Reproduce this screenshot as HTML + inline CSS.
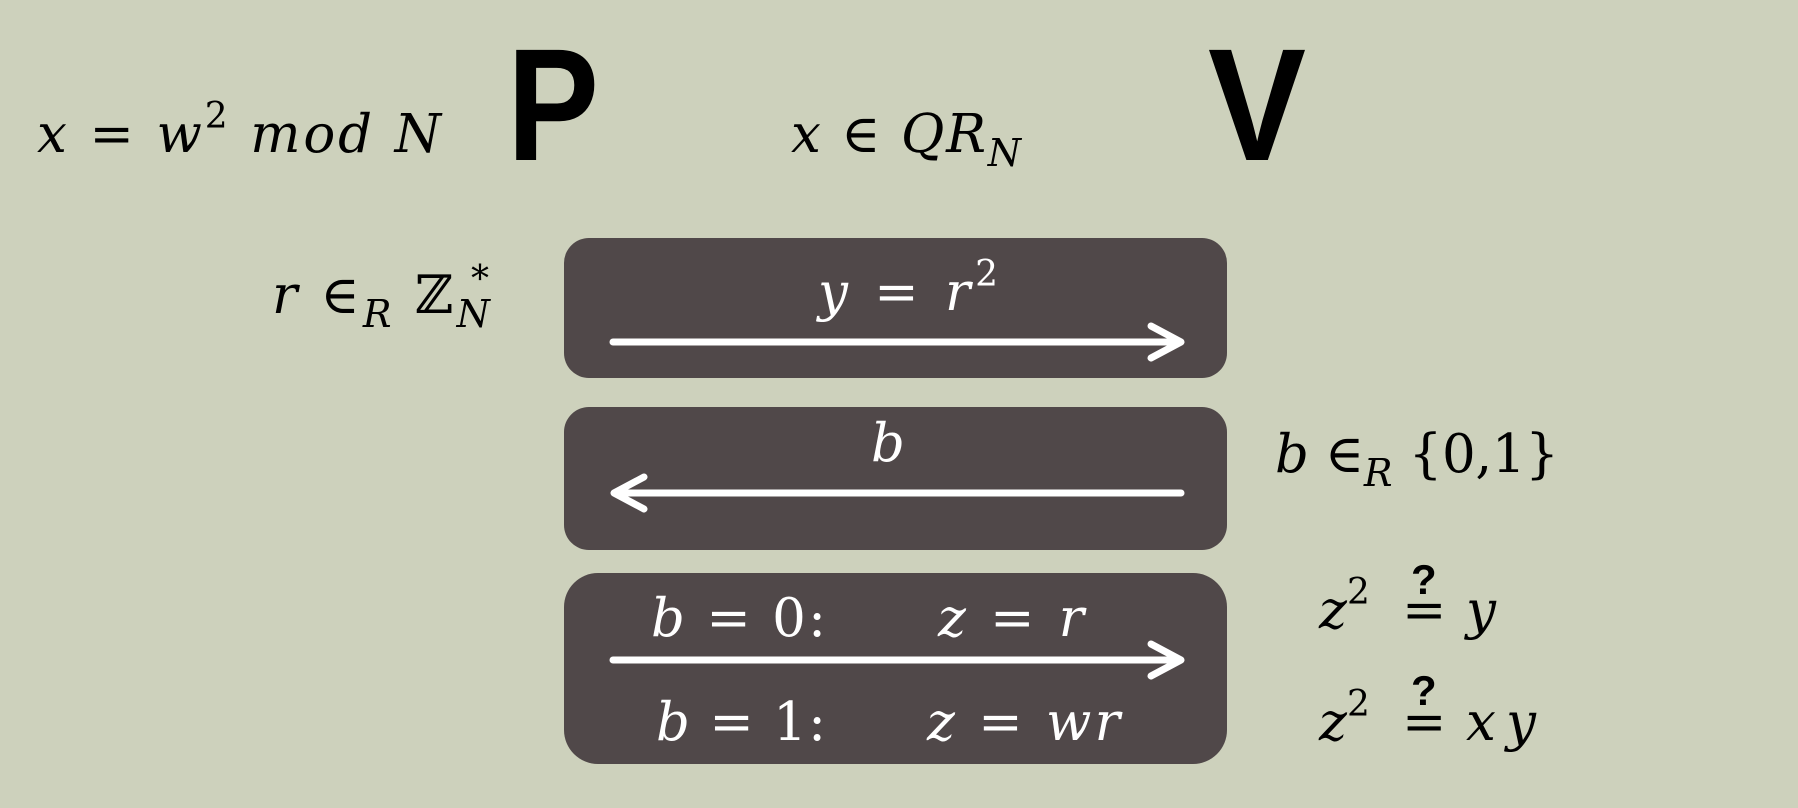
<!DOCTYPE html>
<html><head><meta charset="utf-8"><style>
html,body{margin:0;padding:0;background:#cdd1bc;}
svg{display:block}
.m{font-family:"DejaVu Serif","Liberation Serif",serif;font-style:italic;font-size:53px;}
.u{font-style:normal}
</style></head><body>
<svg width="1798" height="808" viewBox="0 0 1798 808" xmlns="http://www.w3.org/2000/svg">
<rect width="1798" height="808" fill="#cdd1bc"/>
<rect x="564" y="238" width="663" height="140" rx="25" fill="#504849"/>
<rect x="564" y="407" width="663" height="143" rx="25" fill="#504849"/>
<rect x="564" y="573" width="663" height="191" rx="34" fill="#504849"/>
<g stroke="#fff" stroke-width="7" fill="none" stroke-linecap="round" stroke-linejoin="round">
<line x1="613" y1="342" x2="1180" y2="342"/><polyline points="1151,326 1181,342 1151,358"/>
<line x1="618" y1="493" x2="1181" y2="493"/><polyline points="644,477 614,493 644,509"/>
<line x1="613" y1="660" x2="1180" y2="660"/><polyline points="1151,644 1181,660 1151,676"/>
</g>
<text x="507" y="160" font-family="Liberation Sans,sans-serif" font-weight="bold" font-size="160" textLength="92" lengthAdjust="spacingAndGlyphs">P</text>
<text x="1208" y="160" font-family="Liberation Sans,sans-serif" font-weight="bold" font-size="160" textLength="98" lengthAdjust="spacingAndGlyphs">V</text>
<g class="m" fill="#000">
<text x="37" y="152" textLength="404" lengthAdjust="spacing">x <tspan class="u">=</tspan> w<tspan dy="-24" font-size="36" class="u">2</tspan><tspan dy="24"> mod N</tspan></text>
<text x="791" y="152" textLength="230" lengthAdjust="spacing">x <tspan class="u">∈</tspan> QR<tspan dy="14" font-size="38">N</tspan></text>
<text x="272" y="313" textLength="221" lengthAdjust="spacing">r <tspan class="u">∈</tspan><tspan dy="14" font-size="38">R</tspan><tspan dy="-14" class="u"> ℤ</tspan><tspan dy="14" font-size="38">N</tspan><tspan dx="-22" dy="-36" font-size="36" class="u">*</tspan></text>
<text x="1275" y="472" textLength="284" lengthAdjust="spacing">b <tspan class="u">∈</tspan><tspan dy="14" font-size="38">R</tspan><tspan dy="-14" class="u"> {0,1}</tspan></text>
<text x="1319" y="628">z<tspan dy="-24" font-size="36" class="u">2</tspan></text>
<text x="1402" y="628" class="u">=</text>
<text x="1466" y="628">y</text>
<text x="1319" y="740">z<tspan dy="-24" font-size="36" class="u">2</tspan></text>
<text x="1402" y="740" class="u">=</text>
<text x="1466" y="740" textLength="70" lengthAdjust="spacing">xy</text>
</g>
<g font-family="Liberation Sans,sans-serif" font-weight="bold" font-size="42" fill="#000">
<text x="1411" y="594">?</text>
<text x="1411" y="705">?</text>
</g>
<g class="m" fill="#fff">
<text x="818" y="310" textLength="180" lengthAdjust="spacing">y <tspan class="u">=</tspan> r<tspan dy="-24" font-size="36" class="u">2</tspan></text>
<text x="871" y="461">b</text>
<text x="651" y="636" textLength="175" lengthAdjust="spacing">b <tspan class="u">= 0:</tspan></text>
<text x="938" y="636" textLength="146" lengthAdjust="spacing">z <tspan class="u">=</tspan> r</text>
<text x="656" y="740" textLength="170" lengthAdjust="spacing">b <tspan class="u">= 1:</tspan></text>
<text x="927" y="740" textLength="193" lengthAdjust="spacing">z <tspan class="u">=</tspan> wr</text>
</g>
</svg>
</body></html>
